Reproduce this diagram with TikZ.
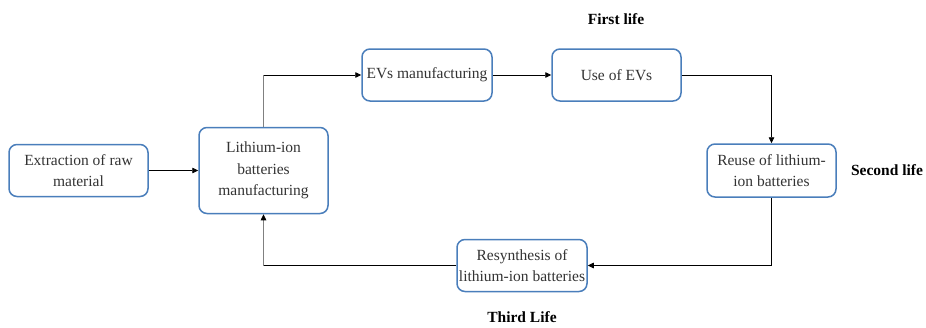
\documentclass[tikz,border=0pt]{standalone}
\usepackage{fontspec}
\setmainfont{Liberation Serif}
\usetikzlibrary{arrows.meta}
\definecolor{boxblue}{HTML}{4A7EBB}
\definecolor{txtgray}{HTML}{333333}
\tikzset{
  stagebox/.style={draw=boxblue, line width=1.5pt, rounded corners=8pt, fill=white,
    text=txtgray, font=\fontsize{15.5}{21.5}\selectfont, align=center, inner sep=0pt},
  flow/.style={draw=black, line width=0.8pt, -{Triangle[length=6pt,width=5.5pt,color=black]}},
  grayflow/.style={flow, draw=gray},
  lifelabel/.style={font=\fontsize{15.5}{18}\selectfont\bfseries, text=black}
}
\begin{document}
\begin{tikzpicture}[x=1pt, y=-1pt]
  \useasboundingbox (0,0) rectangle (926,327);

  % process stages
  \node[stagebox, minimum width=139pt, minimum height=52pt] (raw) at (78.5,170.5)
    {Extraction of raw\\material};
  \node[stagebox, minimum width=129pt, minimum height=86pt] (lib) at (263.5,170.5)
    {Lithium-ion\\batteries\\manufacturing};
  \node[stagebox, minimum width=130pt, minimum height=52pt] (evm) at (427,75)
    {EVs manufacturing};
  \node[stagebox, minimum width=129pt, minimum height=52pt] (use) at (616.5,75)
    {Use of EVs};
  \node[stagebox, minimum width=129pt, minimum height=53pt] (reuse) at (771.5,170.5)
    {Reuse of lithium-\\ion batteries};
  \node[stagebox, minimum width=130pt, minimum height=52pt] (resyn) at (522,265.5)
    {Resynthesis of\\lithium-ion batteries};

  % life-cycle labels
  \node[lifelabel] (first) at (616,19) {First life};
  \node[lifelabel] (second) at (887,170.5) {Second life};
  \node[lifelabel] (third) at (522,317) {Third Life};

  % connectors
  \draw[flow] (raw.east) -- (lib.west);
  \draw[draw=gray, line width=0.8pt] (lib.north) -- (lib.north |- evm.west);
  \draw[flow] (lib.north |- evm.west) -- (evm.west);
  \draw[flow] (evm.east) -- (use.west);
  \draw[flow] (use.east) -| (reuse.north);
  \draw[flow] (reuse.south) |- (resyn.east);
  \draw[draw=black, line width=0.8pt] (resyn.west) -- (resyn.west -| lib.south);
  \draw[grayflow] (resyn.west -| lib.south) -- (lib.south);
\end{tikzpicture}
\end{document}
